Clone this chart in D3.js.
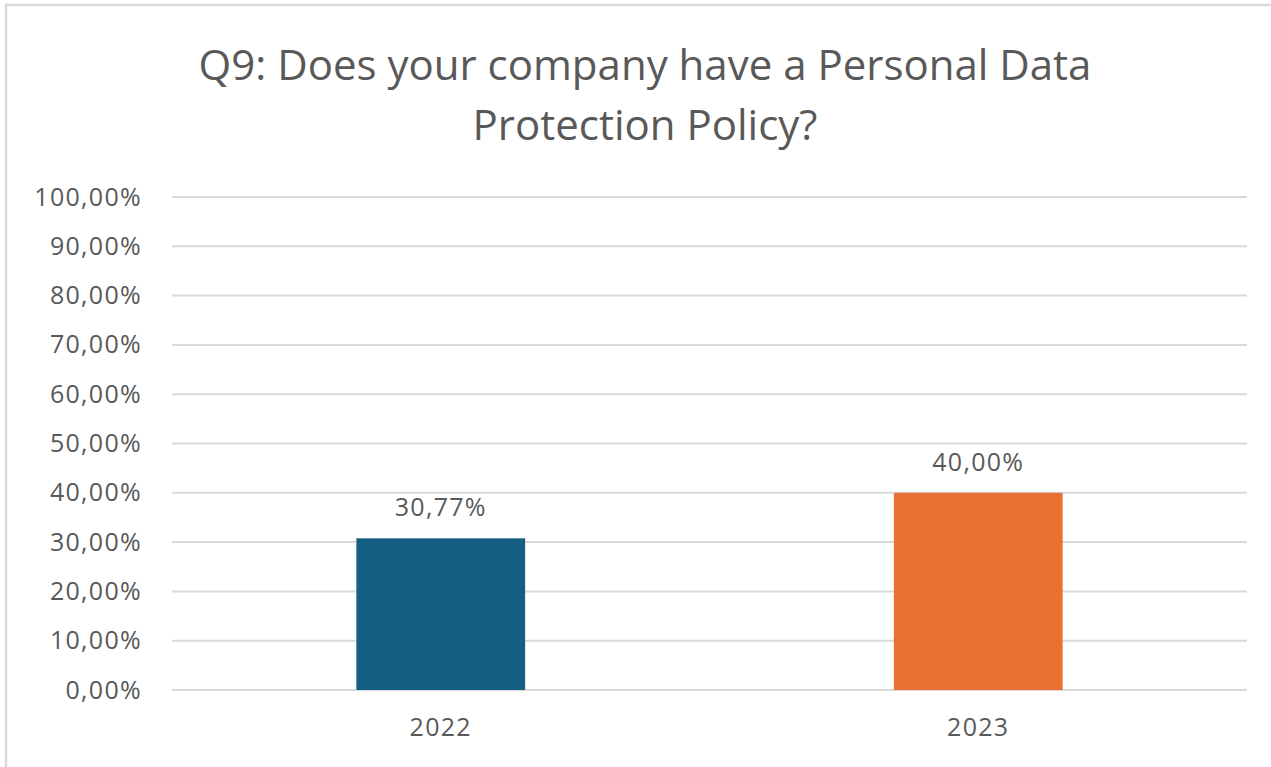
<!DOCTYPE html>
<html>
<head>
<meta charset="utf-8">
<script src="https://cdn.jsdelivr.net/npm/d3@7/dist/d3.min.js"></script>
<style>
  html, body { margin: 0; padding: 0; background: #fff; }
  svg { display: block; }
  text { font-family: "Open Sans", "Noto Sans", sans-serif; fill: #595959; }
</style>
</head>
<body>
<svg id="chart" width="1271" height="767"></svg>
<script>
// Survey answers by year
const categories = ["2022", "2023"];
const values = [0.3077, 0.40];
const barColors = ["#155f82", "#e97132"];
const tickValues = [0, 0.1, 0.2, 0.3, 0.4, 0.5, 0.6, 0.7, 0.8, 0.9, 1.0];
const titleLines = ["Q9: Does your company have a Personal Data", "Protection Policy?"];

const W = 1271, H = 767;
const margin = { left: 172, right: 24, top: 197, bottom: 77 };
const labelFont = "'Open Sans', sans-serif";

const svg = d3.select("#chart");

// Outer frame (top and left edges visible)
svg.append("rect")
  .attr("x", 6).attr("y", 5)
  .attr("width", W + 10).attr("height", H + 10)
  .attr("fill", "none").attr("stroke", "#d9d9d9").attr("stroke-width", 2.5);

const fmtPct = v => (v * 100).toFixed(2).replace(".", ",") + "%";

const x = d3.scaleBand()
  .domain(categories)
  .range([margin.left, W - margin.right])
  .paddingInner(0.686).paddingOuter(0.343);

const y = d3.scaleLinear()
  .domain([0, 1])
  .range([H - margin.bottom, margin.top]);

// Gridlines
svg.append("g")
  .selectAll("line")
  .data(tickValues)
  .join("line")
  .attr("x1", margin.left).attr("x2", W - margin.right)
  .attr("y1", d => y(d)).attr("y2", d => y(d))
  .attr("stroke", "#d9d9d9").attr("stroke-width", 2);

// Y axis labels
const yAxis = d3.axisLeft(y).tickValues(tickValues).tickFormat(fmtPct).tickSize(0).tickPadding(30);
const yg = svg.append("g").attr("transform", `translate(${margin.left},0)`).call(yAxis);
yg.select(".domain").remove();
yg.selectAll("text")
  .attr("font-size", 25).attr("font-family", labelFont).attr("fill", "#595959")
  .attr("letter-spacing", 1.3);

// Bars
svg.append("g")
  .selectAll("rect")
  .data(categories)
  .join("rect")
  .attr("x", d => x(d))
  .attr("width", x.bandwidth())
  .attr("y", (d, i) => y(values[i]))
  .attr("height", (d, i) => y(0) - y(values[i]))
  .attr("fill", (d, i) => barColors[i]);

// Value labels
svg.append("g")
  .selectAll("text")
  .data(categories)
  .join("text")
  .attr("x", d => x(d) + x.bandwidth() / 2)
  .attr("y", (d, i) => y(values[i]) - 22)
  .attr("text-anchor", "middle")
  .attr("font-size", 25)
  .attr("letter-spacing", 1.3)
  .text((d, i) => fmtPct(values[i]));

// X axis labels
const xAxis = d3.axisBottom(x).tickSize(0).tickPadding(28);
const xg = svg.append("g").attr("transform", `translate(0,${y(0)})`).call(xAxis);
xg.select(".domain").remove();
xg.selectAll("text")
  .attr("font-size", 25).attr("font-family", labelFont).attr("fill", "#595959")
  .attr("letter-spacing", 1.3);

// Title
svg.append("g")
  .selectAll("text")
  .data(titleLines)
  .join("text")
  .attr("x", 645)
  .attr("y", (d, i) => 80 + i * 60)
  .attr("text-anchor", "middle")
  .attr("font-size", 42)
  .text(d => d);
</script>
</body>
</html>
